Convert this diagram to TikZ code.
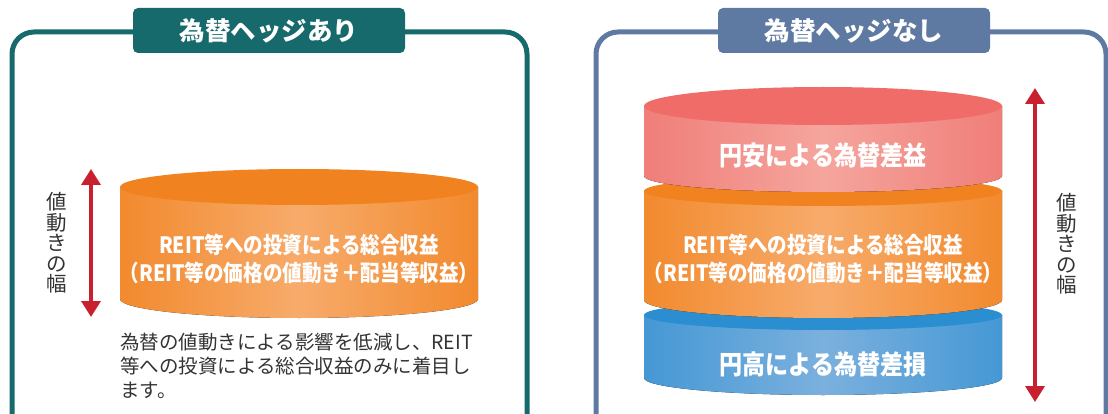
\documentclass[tikz,border=0pt]{standalone}
\usepackage{fontspec}
\setmainfont{Noto Sans CJK JP}
\newfontfamily\condfont{Noto Sans CJK JP}[FakeStretch=0.87]
\usetikzlibrary{arrows.meta}
\definecolor{tealc}{HTML}{176A6C}
\definecolor{slatec}{HTML}{5F7AA2}
\definecolor{arrowred}{HTML}{C8202E}
\definecolor{txtc}{HTML}{333333}
\definecolor{orTop}{HTML}{F0821F}
\definecolor{orEdge}{HTML}{F28A2E}
\definecolor{orMid}{HTML}{F7AB6B}
\definecolor{pkTop}{HTML}{EF6C69}
\definecolor{pkEdge}{HTML}{F07E79}
\definecolor{pkMid}{HTML}{F5A59D}
\definecolor{blTop}{HTML}{2A8ED0}
\definecolor{blEdge}{HTML}{4598D5}
\definecolor{blMid}{HTML}{7BB0DD}
% #1 cx, #2 rx, #3 y top, #4 ry top, #5 y bottom, #6 ry bottom, #7 colour prefix
\newcommand{\mycyl}[7]{%
  \fill[left color=#7Edge, right color=#7Edge, middle color=#7Mid]
    (#1-#2,#3) -- (#1-#2,#5) arc[start angle=180, end angle=360, x radius=#2pt, y radius=#6pt]
    -- (#1+#2,#3) -- cycle;
  \fill[#7Top] (#1,#3) ellipse[x radius=#2pt, y radius=#4pt];
}
\tikzset{
  frameline/.style={line width=5pt, rounded corners=22pt},
  titlebox/.style={rounded corners=5pt},
  titletext/.style={text=white, font=\fontsize{25.5}{30}\selectfont\bfseries, inner sep=0pt},
  cyltext/.style={text=white, font=\condfont\fontsize{22.5}{28}\selectfont\bfseries, align=center, inner sep=0pt},
  bigcyltext/.style={text=white, font=\condfont\fontsize{26.5}{28}\selectfont\bfseries, inner sep=0pt},
  vlabel/.style={text=txtc, font=\fontsize{20.5}{20.6}\selectfont, align=center, inner sep=0pt},
  desctext/.style={text=txtc, font=\fontsize{19.5}{23.8}\selectfont, align=left, inner sep=0pt},
  rangearrow/.style={draw=arrowred, line width=3.5pt, {Triangle[width=19pt,length=16pt]}-{Triangle[width=19pt,length=16pt]}}
}
\begin{document}
\begin{tikzpicture}[x=1pt,y=-1pt]
\useasboundingbox (0,0) rectangle (1108,414);
\clip (0,0) rectangle (1108,414);
% frames
\draw[frameline, draw=tealc] (12,32) rectangle (527,445);
\draw[frameline, draw=slatec] (596,32) rectangle (1106,445);
% title boxes
\fill[titlebox, tealc] (133,8) rectangle (405,53);
\fill[titlebox, slatec] (718,8) rectangle (990,53);
\node[titletext] (t1) at (269,31) {為替ヘッジあり};
\node[titletext] (t2) at (854,31) {為替ヘッジなし};
% left cylinder
\mycyl{299}{179}{187}{18}{299}{19}{or}
\node[cyltext] (lc) at (299,259) {REIT等への投資による総合収益\\（REIT等の価格の値動き＋配当等収益）};
% right stack
\mycyl{823}{179}{315}{15}{378}{17}{bl}
\mycyl{823}{179}{191}{15}{300}{18}{or}
\mycyl{823}{179}{106}{19}{176}{16}{pk}
\node[bigcyltext] (rp) at (823,155) {円安による為替差益};
\node[cyltext] (ro) at (823,259) {REIT等への投資による総合収益\\（REIT等の価格の値動き＋配当等収益）};
\node[bigcyltext] (rb) at (823,364) {円高による為替差損};
% range arrows
\coordinate (la1) at (91,169);
\coordinate (la2) at (91,317);
\draw[rangearrow] (la1) -- (la2);
\coordinate (ra1) at (1035,88);
\coordinate (ra2) at (1035,402);
\draw[rangearrow] (ra1) -- (ra2);
\node[vlabel] (lv) at (57,243) {値\\動\\き\\の\\幅};
\node[vlabel] (rv) at (1067,244) {値\\動\\き\\の\\幅};
% description
\node[desctext, anchor=north west] (d) at (120,333) {為替の値動きによる影響を低減し、REIT\\等への投資による総合収益のみに着目し\\ます。};
\end{tikzpicture}
\end{document}
